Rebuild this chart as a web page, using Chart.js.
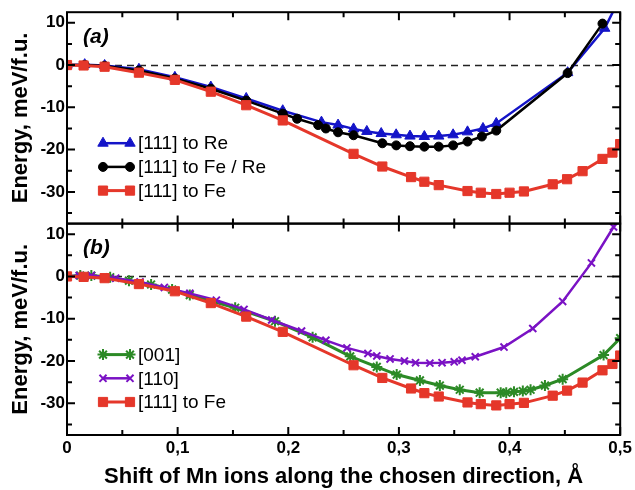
<!DOCTYPE html>
<html>
<head>
<meta charset="utf-8">
<script src="https://cdn.jsdelivr.net/npm/chart.js@4.4.1/dist/chart.umd.min.js"></script>
<style>
  html, body { margin: 0; padding: 0; background: #fff; }
  #wrap { position: relative; width: 635px; height: 490px; }
</style>
</head>
<body>
<div id="wrap"><canvas id="c" width="635" height="490"></canvas></div>
<script>
// ---------- data ----------
// x tick labels / y tick values
const xTickValues = [0, 0.1, 0.2, 0.3, 0.4, 0.5];
const yTickValues = [-30, -20, -10, 0, 10];

// panel (a)
const xRe = [0, 0.016, 0.034, 0.065, 0.0975, 0.13, 0.162, 0.195, 0.23, 0.245, 0.259, 0.271, 0.284, 0.2975, 0.31, 0.323, 0.336, 0.349, 0.362, 0.376, 0.388, 0.4525, 0.486, 0.5];
const yRe = [0, 0.1, -0.1, -1.0, -2.9, -5.2, -7.9, -10.8, -13.5, -14.2, -15.1, -15.7, -16.2, -16.5, -16.8, -16.9, -16.8, -16.5, -15.8, -15.0, -13.8, -1.8, 8.7, 16.0];

const xFeRe = [0, 0.016, 0.034, 0.065, 0.0975, 0.13, 0.162, 0.195, 0.208, 0.227, 0.234, 0.245, 0.259, 0.285, 0.2976, 0.31, 0.323, 0.336, 0.349, 0.362, 0.375, 0.388, 0.4525, 0.484];
const yFeRe = [0, 0, -0.2, -1.3, -3.2, -5.6, -8.4, -11.5, -12.7, -14.2, -15.0, -15.9, -16.6, -18.5, -19.0, -19.2, -19.3, -19.3, -19.0, -18.1, -16.9, -15.5, -1.9, 9.8];

const xFe = [0, 0.015, 0.034, 0.065, 0.0975, 0.13, 0.162, 0.195, 0.259, 0.285, 0.311, 0.323, 0.336, 0.362, 0.374, 0.388, 0.40, 0.413, 0.439, 0.452, 0.466, 0.484, 0.493, 0.5];
const yFe = [0, -0.1, -0.4, -1.8, -3.5, -6.3, -9.5, -13.1, -21.0, -24.0, -26.5, -27.6, -28.4, -29.8, -30.2, -30.5, -30.2, -29.9, -28.2, -27.0, -25.1, -22.2, -20.7, -18.7];

// panel (b)
const x001 = [0, 0.012, 0.022, 0.039, 0.056, 0.076, 0.095, 0.111, 0.152, 0.188, 0.222, 0.256, 0.28, 0.298, 0.319, 0.337, 0.355, 0.373, 0.392, 0.397, 0.404, 0.412, 0.419, 0.432, 0.448, 0.485, 0.5];
const y001 = [0, 0.2, 0.2, -0.2, -1.0, -1.9, -3.1, -4.4, -7.4, -10.6, -14.4, -18.9, -21.4, -23.2, -24.6, -25.8, -26.8, -27.5, -27.5, -27.5, -27.3, -27.1, -26.8, -25.8, -24.3, -18.6, -14.6];

const x110 = [0, 0.011, 0.022, 0.044, 0.066, 0.088, 0.111, 0.135, 0.16, 0.185, 0.212, 0.234, 0.253, 0.272, 0.28, 0.292, 0.305, 0.315, 0.328, 0.339, 0.35, 0.357, 0.369, 0.395, 0.421, 0.448, 0.474, 0.494, 0.5];
const y110 = [0, 0.2, 0.2, -0.4, -1.3, -2.6, -4.0, -5.6, -7.8, -10.3, -12.9, -15.1, -16.9, -18.2, -18.8, -19.5, -20.0, -20.4, -20.5, -20.4, -20.2, -19.8, -19.0, -16.7, -12.3, -5.9, 3.2, 11.7, 14.0];

const labelsA = ['[111] to Re', '[111] to Fe / Re', '[111] to Fe'];
const labelsB = ['[001]', '[110]', '[111] to Fe'];

// ---------- styling ----------
const RED = '#e5372a', BLUE = '#1414c8', BLACK = '#000000', PURPLE = '#7a12c4', GREEN = '#2c8a26';
const FONT = '"Liberation Sans", Arial, Helvetica, sans-serif';
const pts = (xs, ys) => xs.map((x, i) => ({x: x, y: ys[i]}));

function ds(label, xs, ys, axis, color, style, r, bw, lw, order) {
  return {
    label: label, data: pts(xs, ys), yAxisID: axis, xAxisID: 'x',
    borderColor: color, backgroundColor: color, borderWidth: lw,
    pointStyle: style, pointRadius: r, pointBorderWidth: bw,
    pointBackgroundColor: color, pointBorderColor: color,
    tension: 0, order: order, clip: 0, fill: false
  };
}

const STY = {
  re:   [BLUE, 'triangle', 6, 1, 2.5],
  fere: [BLACK, 'circle', 4.5, 1, 2.5],
  fe:   [RED, 'rect', 6.5, 1, 3],
  s001: [GREEN, 'star', 5.5, 2, 3],
  s110: [PURPLE, 'crossRot', 5, 2, 2.5]
};

const datasets = [
  ds(labelsA[0], xRe, yRe, 'ya', ...STY.re, 2),
  ds(labelsA[1], xFeRe, yFeRe, 'ya', ...STY.fere, 1),
  ds(labelsA[2], xFe, yFe, 'ya', ...STY.fe, 0),
  ds(labelsB[0], x001, y001, 'yb', ...STY.s001, 2),
  ds(labelsB[1], x110, y110, 'yb', ...STY.s110, 1),
  ds(labelsB[2], xFe, yFe, 'yb', ...STY.fe, 0)
];

const fmtX = v => (Math.abs(v) < 1e-9 ? '0' : v.toFixed(1).replace('.', ','));

function yScaleOpts() {
  return {
    type: 'linear', position: 'left', stack: 'panels', stackWeight: 1,
    min: -37.5, max: 12.5,
    afterBuildTicks: s => { s.ticks = yTickValues.map(v => ({value: v})); },
    afterFit: s => { s.width = 67; },
    ticks: { color: '#000', padding: 2, font: {family: FONT, size: 17, weight: 'bold'}, callback: v => String(v) },
    grid: { display: false, drawTicks: false },
    border: { display: false },
    title: { display: true, text: 'Energy, meV/f.u.', color: '#000',
             font: {family: FONT, size: 22, weight: 'bold'}, padding: {top: 8, bottom: 0} }
  };
}

function markPoint(ctx, style, x, y, r, color, bw) {
  ctx.save();
  ctx.fillStyle = color; ctx.strokeStyle = color; ctx.lineWidth = bw;
  if (Chart.helpers && Chart.helpers.drawPoint) {
    Chart.helpers.drawPoint(ctx, {pointStyle: style, radius: r, rotation: 0, borderWidth: bw}, x, y);
  } else {
    ctx.beginPath(); ctx.arc(x, y, r, 0, Math.PI * 2); ctx.fill();
  }
  ctx.restore();
}

const deco = {
  id: 'deco',
  beforeDatasetsDraw(chart) {
    const ctx = chart.ctx, xs = chart.scales.x;
    ['ya', 'yb'].forEach(id => {
      const ys = chart.scales[id];
      const y0 = Math.round(ys.getPixelForValue(0)) + 0.5;
      ctx.save();
      ctx.strokeStyle = '#222'; ctx.lineWidth = 1.5; ctx.setLineDash([7, 5]);
      ctx.beginPath(); ctx.moveTo(xs.left, y0); ctx.lineTo(xs.right, y0); ctx.stroke();
      ctx.restore();
    });
  },
  afterDatasetsDraw(chart) {
    const ctx = chart.ctx, xs = chart.scales.x;
    const panels = [
      {id: 'ya', tag: '(a)', items: [[labelsA[0], STY.re], [labelsA[1], STY.fere], [labelsA[2], STY.fe]]},
      {id: 'yb', tag: '(b)', items: [[labelsB[0], STY.s001], [labelsB[1], STY.s110], [labelsB[2], STY.fe]]}
    ];
    panels.forEach(p => {
      const ys = chart.scales[p.id];
      const L = xs.left, R = xs.right, T = ys.top, B = ys.bottom;
      ctx.save();
      ctx.strokeStyle = '#000'; ctx.lineWidth = 2;
      // ticks
      ctx.beginPath();
      for (let v = 0; v <= 0.5001; v += 0.05) {
        const px = xs.getPixelForValue(v);
        const major = Math.abs(v * 10 - Math.round(v * 10)) < 1e-6;
        const len = major ? 8 : 5;
        ctx.moveTo(px, T); ctx.lineTo(px, T + len);
        ctx.moveTo(px, B); ctx.lineTo(px, B - len);
      }
      for (let v = -35; v <= 10; v += 5) {
        const py = ys.getPixelForValue(v);
        const len = (v % 10 === 0) ? 8 : 5;
        ctx.moveTo(L, py); ctx.lineTo(L + len, py);
        ctx.moveTo(R, py); ctx.lineTo(R - len, py);
      }
      ctx.stroke();
      // frame
      ctx.strokeRect(L, T, R - L, B - T);
      // panel tag
      ctx.fillStyle = '#000';
      ctx.font = 'italic bold 21px ' + FONT;
      ctx.textBaseline = 'middle'; ctx.textAlign = 'left';
      ctx.fillText(p.tag, L + 16, T + 25);
      // legend
      ctx.font = '19px ' + FONT;
      p.items.forEach((it, i) => {
        const s = it[1];
        const yy = T + 131 + i * 23.7;
        const x1 = L + 36, x2 = L + 63;
        ctx.save();
        ctx.strokeStyle = s[0]; ctx.lineWidth = s[4];
        ctx.beginPath(); ctx.moveTo(x1, yy); ctx.lineTo(x2, yy); ctx.stroke();
        ctx.restore();
        markPoint(ctx, s[1], x1, yy, s[2], s[0], s[3]);
        markPoint(ctx, s[1], x2, yy, s[2], s[0], s[3]);
        ctx.fillStyle = '#000';
        ctx.fillText(it[0], L + 71, yy + 1);
      });
      ctx.restore();
    });
  }
};

new Chart(document.getElementById('c').getContext('2d'), {
  type: 'line',
  data: { datasets: datasets },
  options: {
    responsive: false, animation: false, devicePixelRatio: 1,
    layout: { padding: { left: 0, right: 14, top: 12, bottom: 0 } },
    plugins: { legend: { display: false }, tooltip: { enabled: false } },
    scales: {
      x: {
        type: 'linear', position: 'bottom', min: 0, max: 0.5,
        afterBuildTicks: s => { s.ticks = xTickValues.map(v => ({value: v})); },
        afterFit: s => { s.height = 55; },
        ticks: { color: '#000', padding: 3, maxRotation: 0, autoSkip: false,
                 font: {family: FONT, size: 17, weight: 'bold'}, callback: v => fmtX(v) },
        grid: { display: false, drawTicks: false },
        border: { display: false },
        title: { display: true, text: 'Shift of Mn ions along the chosen direction, Å', color: '#000',
                 font: {family: FONT, size: 22, weight: 'bold'}, padding: {top: 0, bottom: 0} }
      },
      yb: yScaleOpts(),
      ya: yScaleOpts()
    }
  },
  plugins: [deco]
});
</script>
</body>
</html>
